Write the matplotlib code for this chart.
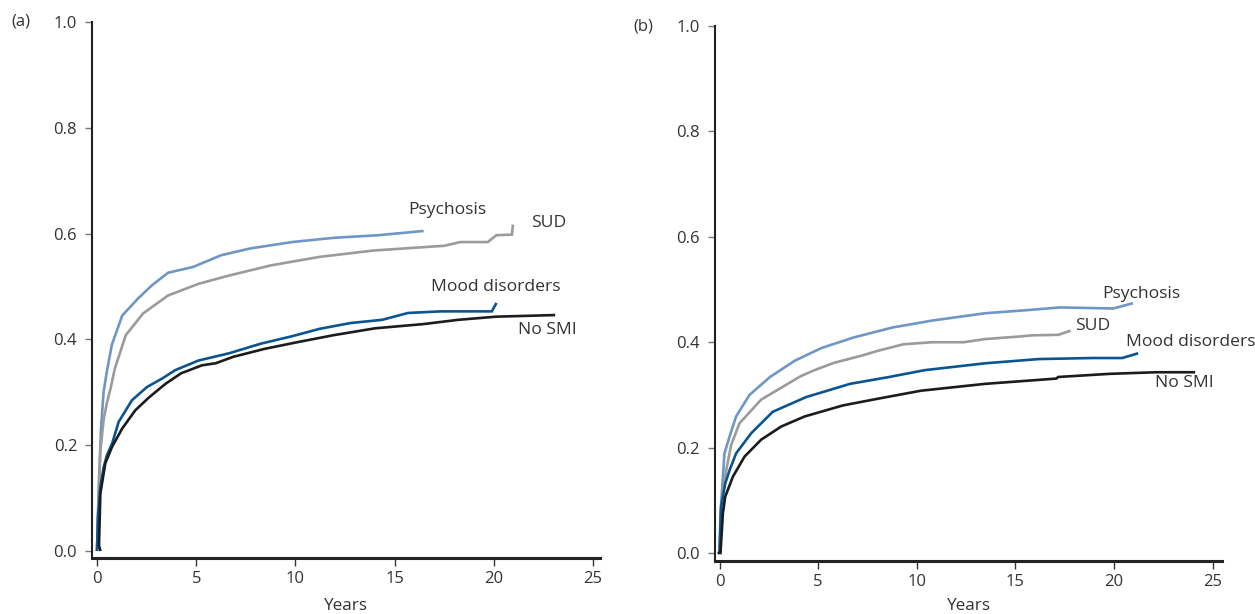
import matplotlib
matplotlib.use("Agg")
import matplotlib.pyplot as plt

# ---------------- data ----------------
# Panel (a)
a_psy_x = [0, 0.08, 0.2, 0.33, 0.5, 0.75, 1.27, 2.06, 2.76, 3.58, 4.85, 6.25, 7.73, 9.83, 11.92, 14.19, 16.46]
a_psy_y = [0, 0.11, 0.23, 0.30, 0.34, 0.39, 0.445, 0.477, 0.502, 0.526, 0.537, 0.559, 0.572, 0.584, 0.592, 0.597, 0.605]

a_sud_x = [0, 0.08, 0.17, 0.34, 0.5, 0.7, 0.9, 1.45, 2.32, 3.58, 5.11, 6.68, 8.78, 11.22, 13.93, 17.51, 18.3, 19.69,
           20.13, 20.91, 20.96]
a_sud_y = [0, 0.10, 0.19, 0.25, 0.28, 0.31, 0.345, 0.408, 0.449, 0.483, 0.505, 0.521, 0.540, 0.556, 0.568, 0.577, 0.584,
           0.584, 0.597, 0.598, 0.617]

a_mood_x = [0, 0.05, 0.17, 0.34, 0.5, 0.76, 1.09, 1.76, 2.52, 3.28, 3.95, 5.11, 6.68, 8.26, 9.83, 11.22, 12.79, 14.37,
            15.68, 17.33, 19.9, 20.13]
a_mood_y = [0, 0.065, 0.121, 0.159, 0.181, 0.203, 0.244, 0.285, 0.310, 0.326, 0.342, 0.360, 0.374, 0.392, 0.406, 0.420,
            0.431, 0.437, 0.450, 0.453, 0.453, 0.469]

a_nosmi_x = [0.18, 0.1, 0.17, 0.42, 0.76, 1.26, 1.93, 2.61, 3.45, 4.24, 5.29, 5.99, 6.86, 8.43, 10.0, 11.92, 14.02,
             16.46, 18.2, 20.13, 23.09]
a_nosmi_y = [0, 0.01, 0.109, 0.166, 0.197, 0.231, 0.266, 0.290, 0.316, 0.336, 0.351, 0.355, 0.367, 0.382, 0.394, 0.408,
             0.421, 0.429, 0.437, 0.443, 0.446]

# Panel (b)
b_psy_x = [0, 0.05, 0.25, 0.51, 0.84, 1.52, 2.56, 3.82, 5.17, 6.80, 8.78, 10.77, 13.47, 15.64, 17.26, 19.97, 20.96]
b_psy_y = [0, 0.075, 0.189, 0.221, 0.259, 0.300, 0.334, 0.365, 0.389, 0.409, 0.428, 0.441, 0.455, 0.461, 0.466, 0.464,
           0.474]

b_sud_x = [0, 0.17, 0.34, 0.59, 1.01, 2.11, 3.19, 4.09, 4.82, 5.81, 7.16, 8.06, 9.32, 10.77, 12.39, 13.47, 15.28,
           15.82, 17.18, 17.80]
b_sud_y = [0, 0.119, 0.157, 0.205, 0.246, 0.291, 0.315, 0.335, 0.347, 0.361, 0.374, 0.384, 0.396, 0.400, 0.400, 0.406,
           0.411, 0.413, 0.414, 0.422]

b_mood_x = [0, 0.08, 0.29, 0.51, 0.84, 1.6, 2.7, 4.4, 6.62, 8.60, 10.41, 13.47, 16.18, 18.89, 20.42, 21.23]
b_mood_y = [0, 0.088, 0.132, 0.157, 0.189, 0.227, 0.268, 0.296, 0.321, 0.334, 0.347, 0.360, 0.368, 0.370, 0.370, 0.379]

b_nosmi_x = [-0.1, 0.05, 0.17, 0.29, 0.68, 1.27, 2.11, 3.13, 4.31, 6.25, 8.06, 10.22, 13.47, 17.08, 17.17, 19.79,
             22.13, 24.12]
b_nosmi_y = [0, 0, 0.075, 0.107, 0.145, 0.183, 0.215, 0.240, 0.259, 0.280, 0.293, 0.308, 0.321, 0.331, 0.334, 0.340,
             0.343, 0.343]

series_names = ["Psychosis", "SUD", "Mood disorders", "No SMI"]
colors = ["#6f96c6", "#9b9b9b", "#0a5591", "#1c1c1c"]

x_ticks = [0, 5, 10, 15, 20, 25]
y_ticks = [0.0, 0.2, 0.4, 0.6, 0.8, 1.0]
y_tick_labels = ["0.0", "0.2", "0.4", "0.6", "0.8", "1.0"]
x_label = "Years"
panel_labels = ["(a)", "(b)"]

# label positions (data coords) for each panel
a_label_pos = [(15.68, 0.645), (21.87, 0.62), (16.83, 0.499), (21.22, 0.417)]
b_label_pos = [(19.42, 0.491), (18.05, 0.431), (20.59, 0.400), (22.10, 0.322)]

# ---------------- drawing ----------------
plt.rcParams["font.family"] = ["Open Sans", "DejaVu Sans"]
txt_color = "#333333"

fig = plt.figure(figsize=(12.55, 6.14), dpi=100)
ax_a = fig.add_axes([0.0737, 0.0912, 0.4044, 0.873])
ax_b = fig.add_axes([0.5697, 0.0863, 0.4040, 0.8713])

panels = [
    (ax_a, [(a_psy_x, a_psy_y), (a_sud_x, a_sud_y), (a_mood_x, a_mood_y), (a_nosmi_x, a_nosmi_y)], a_label_pos,
     (-0.0132, 1.0), (-0.227, 25.35), 8),
    (ax_b, [(b_psy_x, b_psy_y), (b_sud_x, b_sud_y), (b_mood_x, b_mood_y), (b_nosmi_x, b_nosmi_y)], b_label_pos,
     (-0.0152, 1.0), (-0.23, 25.48), 5.5),
]

for (ax, data, lpos, ylim, xlim, lpad), plab in zip(panels, panel_labels):
    for (xs, ys), col, name, (lx, ly) in zip(data, colors, series_names, lpos):
        ax.plot(xs, ys, color=col, lw=1.9, solid_joinstyle="miter", solid_capstyle="butt")
        ax.text(lx, ly, name, fontsize=12.6, color=txt_color, ha="left", va="center")
    ax.set_xlim(*xlim)
    ax.set_ylim(*ylim)
    ax.set_xticks(x_ticks)
    ax.set_yticks(y_ticks)
    ax.set_yticklabels(y_tick_labels)
    ax.spines["top"].set_visible(False)
    ax.spines["right"].set_visible(False)
    ax.spines["left"].set_linewidth(1.5)
    ax.spines["bottom"].set_linewidth(2.2)
    ax.spines["left"].set_color("#222222")
    ax.spines["bottom"].set_color("#222222")
    ax.tick_params(axis="y", length=5, width=1.0, color="#777777", pad=6, labelsize=12, labelcolor=txt_color)
    ax.tick_params(axis="x", length=5.5, width=1.0, color="#333333", pad=4, labelsize=12, labelcolor=txt_color)
    ax.set_xlabel(x_label, fontsize=12.3, color=txt_color, labelpad=lpad)
    ax.text(-0.16, 1.0, plab, transform=ax.transAxes, fontsize=12, color=txt_color, ha="left", va="center")

fig.savefig("out.png", dpi=100)
